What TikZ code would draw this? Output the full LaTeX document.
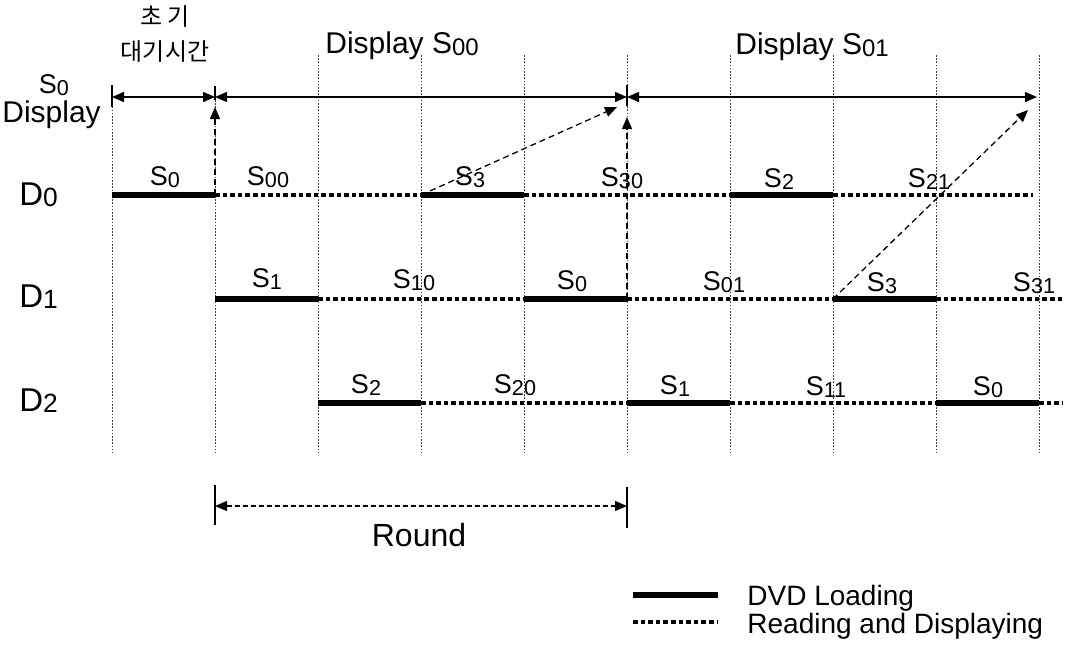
\documentclass[tikz,border=0pt]{standalone}
\usepackage{fontspec}
\setmainfont{Liberation Sans}
\newfontfamily\krfont{Noto Sans CJK KR}
\usepackage{graphicx}
\usepackage{tikz}
\usetikzlibrary{arrows.meta, positioning, calc}
\newcommand{\Sx}[1]{S\raisebox{-0.08em}{\scalebox{0.8}{#1}}}
\newcommand{\Dx}[1]{D\raisebox{-0.04em}{\scalebox{0.8}{#1}}}
\tikzset{
  gridline/.style={line width=0.45pt, dash pattern=on 0.8pt off 0.8pt, color=black!75},
  tick/.style={line width=0.8pt},
  loadseg/.style={line width=2.8pt},
  readseg/.style={line width=2.3pt, dash pattern=on 2.3pt off 1.5pt},
  spanarrow/.style={{Triangle[length=6pt,width=5pt]}-{Triangle[length=6pt,width=5pt]}, line width=0.7pt},
  moveto/.style={-{Triangle[length=6pt,width=5pt]}, line width=0.65pt, dash pattern=on 3pt off 2pt},
  seglabel/.style={anchor=base, inner sep=0pt, font=\fontsize{13.5}{15}\selectfont},
  rowlabel/.style={anchor=base west, inner sep=0pt, font=\fontsize{16.5}{18}\selectfont},
  titlelabel/.style={anchor=base west, inner sep=0pt, font=\fontsize{15}{18}\selectfont},
  krlabel/.style={anchor=base, inner sep=0pt, font=\krfont\fontsize{12}{14}\selectfont},
  legendlabel/.style={anchor=base west, inner sep=0pt, font=\fontsize{14}{16}\selectfont}
}

\begin{document}
\begin{tikzpicture}[x=0.5pt, y=-0.5pt]
  \useasboundingbox (0,0) rectangle (1066,660);

  % Time slots: grid points on the display line and on the three disk rows
  \foreach \i in {0,...,9} {
    \coordinate (top\i) at (112+103*\i, 97);
    \coordinate (a\i) at (112+103*\i, 195);
    \coordinate (b\i) at (112+103*\i, 299);
    \coordinate (e\i) at (112+103*\i, 403);
  }
  \coordinate (aend) at (1033,195);
  \coordinate (bend) at (1062,299);
  \coordinate (eend) at (1062,403);

  % Dotted grid lines
  \foreach \i in {0,1}
    \draw[gridline] (112+103*\i,100) -- (112+103*\i,453);
  \foreach \i in {2,...,9}
    \draw[gridline] (112+103*\i,55) -- (112+103*\i,453);

  % Headings
  \node[krlabel] (kr1) at (165,25) {초 기};
  \node[krlabel] (kr2) at (165,60) {대기시간};
  \node[titlelabel] (disp00) at (325,53) {Display \Sx{00}};
  \node[titlelabel] (disp01) at (735,54) {Display \Sx{01}};
  \node[anchor=base, inner sep=0pt, font=\fontsize{13.5}{15}\selectfont] (s0top) at (54,93) {\Sx{0}};
  \node[titlelabel] (s0disp) at (2,122) {Display};

  % Display periods
  \draw[tick] (112,85) -- (112,107);
  \draw[tick] (215,86) -- (215,100);
  \draw[tick] (627,85) -- (627,106);
  \draw[spanarrow] (top0) -- (top1);
  \draw[spanarrow] (top1) -- (top5);
  \draw[spanarrow] (top5) -- ($(top9)+(-2,0)$);

  % Disk rows
  \node[rowlabel] (rowD0) at (19,205) {\Dx{0}};
  \node[rowlabel] (rowD1) at (19,307) {\Dx{1}};
  \node[rowlabel] (rowD2) at (19,411) {\Dx{2}};

  % D0
  \draw[readseg] (a1) -- (a3);
  \draw[readseg] (a4) -- (a6);
  \draw[readseg] (a7) -- (aend);
  \draw[loadseg] (a0) -- (a1);
  \draw[loadseg] (a3) -- (a4);
  \draw[loadseg] (a6) -- (a7);
  % D1
  \draw[readseg] (b2) -- (b4);
  \draw[readseg] (b5) -- (b7);
  \draw[readseg] (b8) -- (bend);
  \draw[loadseg] (b1) -- (b2);
  \draw[loadseg] (b4) -- (b5);
  \draw[loadseg] (b7) -- (b8);
  % D2
  \draw[readseg] (e3) -- (e5);
  \draw[readseg] (e6) -- (e8);
  \draw[readseg] (e9) -- (eend);
  \draw[loadseg] (e2) -- (e3);
  \draw[loadseg] (e5) -- (e6);
  \draw[loadseg] (e8) -- (e9);

  % Segment names
  \node[seglabel] (lblA1) at (165,185) {\Sx{0}};
  \node[seglabel] (lblA2) at (268,185) {\Sx{00}};
  \node[seglabel] (lblA3) at (470,185) {\Sx{3}};
  \node[seglabel] (lblA4) at (622,186) {\Sx{30}};
  \node[seglabel] (lblA5) at (779,187) {\Sx{2}};
  \node[seglabel] (lblA6) at (929,187) {\Sx{21}};
  \node[seglabel] (lblB1) at (267,287) {\Sx{1}};
  \node[seglabel] (lblB2) at (414,288) {\Sx{10}};
  \node[seglabel] (lblB3) at (572,289) {\Sx{0}};
  \node[seglabel] (lblB4) at (724,290) {\Sx{01}};
  \node[seglabel] (lblB5) at (882,291) {\Sx{3}};
  \node[seglabel] (lblB6) at (1034,291) {\Sx{31}};
  \node[seglabel] (lblE1) at (366,393) {\Sx{2}};
  \node[seglabel] (lblE2) at (515,393) {\Sx{20}};
  \node[seglabel] (lblE3) at (675,394) {\Sx{1}};
  \node[seglabel] (lblE4) at (826,395) {\Sx{11}};
  \node[seglabel] (lblE5) at (988,395) {\Sx{0}};

  % Start of display
  \draw[moveto] (a1) -- ($(top1)+(0,10)$);
  \draw[moveto] (a3) -- ($(top5)+(-10,10)$);
  \draw[moveto] (b5) -- ($(top5)+(0,20)$);
  \draw[moveto] (b7) -- ($(top9)+(-11,13)$);

  % Round
  \coordinate (rndL) at (215,506);
  \coordinate (rndR) at (627,506);
  \draw[tick] (215,485) -- (215,525);
  \draw[tick] (627,487) -- (627,528);
  \draw[spanarrow, line width=0.6pt, dash pattern=on 2.5pt off 1.5pt] (rndL) -- (rndR);
  \node[anchor=base, inner sep=0pt, font=\fontsize{16}{18}\selectfont] (rnd) at (419,546) {Round};

  % Legend
  \coordinate (legA) at (633,595);
  \coordinate (legB) at (718,595);
  \coordinate (legC) at (633,622);
  \coordinate (legD) at (718,622);
  \draw[loadseg] (legA) -- (legB);
  \draw[readseg] (legC) -- (legD);
  \node[legendlabel] (legload) at (747,605) {DVD Loading};
  \node[legendlabel] (legread) at (747,633) {Reading and Displaying};
\end{tikzpicture}
\end{document}
